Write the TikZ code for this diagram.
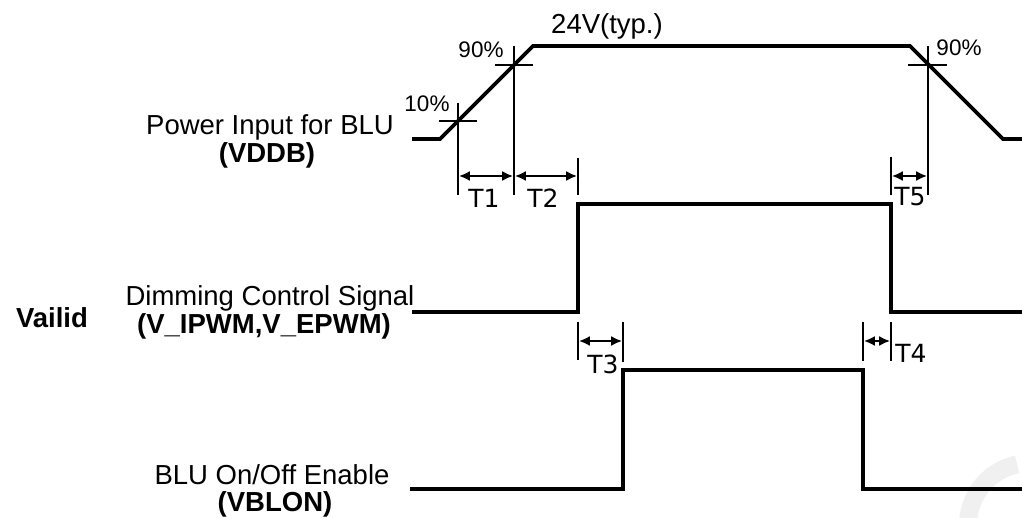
\documentclass[tikz,border=0pt]{standalone}
\usepackage{fontspec}
\setmainfont{Liberation Sans}
\newfontfamily\tfont{DejaVu Sans}
\usetikzlibrary{arrows.meta}
\begin{document}
\begin{tikzpicture}[x=1pt,y=-1pt,
  sig/.style={line width=3.6pt,line join=miter,line cap=butt},
  tickline/.style={line width=1.8pt},
  dimarrow/.style={line width=2.6pt,{Latex[length=11pt,width=10pt]}-{Latex[length=11pt,width=10pt]},shorten >=0.8pt,shorten <=0.8pt},
  lab/.style={font=\fontsize{27.5}{31}\selectfont,inner sep=0pt},
  blab/.style={font=\fontsize{27.5}{31}\selectfont\bfseries,inner sep=0pt},
  pct/.style={font=\fontsize{22.5}{25}\selectfont,inner sep=0pt},
  tlab/.style={font=\tfont\fontsize{25}{28}\selectfont,inner sep=0pt}]
\useasboundingbox (0,0) rectangle (1022,518);
% watermark
\coordinate (wm) at (1030,525);
\draw[gray!12,line width=18pt] ([shift={(wm)}]258:62) arc[start angle=258,end angle=165,radius=62];
% coordinates
\coordinate (p0) at (412,139);
\coordinate (p1) at (440,139);
\coordinate (p2) at (533,46);
\coordinate (p3) at (910,46);
\coordinate (p4) at (1003,139);
\coordinate (p5) at (1022,139);
\coordinate (d0) at (412,312);
\coordinate (d1) at (578,312);
\coordinate (d2) at (578,204);
\coordinate (d3) at (891,204);
\coordinate (d4) at (891,312);
\coordinate (d5) at (1022,312);
\coordinate (e0) at (410,489);
\coordinate (e1) at (623,489);
\coordinate (e2) at (623,370);
\coordinate (e3) at (863,370);
\coordinate (e4) at (863,489);
\coordinate (e5) at (1022,489);
% signals
\draw[sig] (p0) -- (p1) -- (p2) -- (p3) -- (p4) -- (p5);
\draw[sig] (d0) -- (d1) -- (d2) -- (d3) -- (d4) -- (d5);
\draw[sig] (e0) -- (e1) -- (e2) -- (e3) -- (e4) -- (e5);
% threshold crosses
\draw[tickline] (439,121) -- (477,121);
\draw[tickline] (458,103) -- (458,195);
\draw[tickline] (495,65) -- (533,65);
\draw[tickline] (514,46) -- (514,195);
\draw[tickline] (908,65) -- (947,65);
\draw[tickline] (928,46) -- (928,195);
\draw[tickline] (578,158) -- (578,195);
\draw[tickline] (891,157) -- (891,195);
% T3 / T4 ticks
\draw[tickline] (578,322) -- (578,360);
\draw[tickline] (623,322) -- (623,362);
\draw[tickline] (863,322) -- (863,361);
\draw[tickline] (891,322) -- (891,361);
% dimension arrows
\coordinate (a1) at (458,176);
\coordinate (a2) at (514,176);
\coordinate (a3) at (578,176);
\coordinate (a5l) at (891,176);
\coordinate (a5r) at (928,176);
\coordinate (b3l) at (578,341);
\coordinate (b3r) at (623,341);
\coordinate (b4l) at (863,341);
\coordinate (b4r) at (891,341);
\draw[dimarrow] (a1) -- (a2);
\draw[dimarrow] (a2) -- (a3);
\draw[dimarrow] (a5l) -- (a5r);
\draw[dimarrow] (b3l) -- (b3r);
\draw[dimarrow] (b4l) -- (b4r);
% T labels
\node[tlab] (t1) at (484,198) {T1};
\node[tlab] (t2) at (543,198) {T2};
\node[tlab] (t5) at (910,197) {T5};
\node[tlab] (t3) at (603,364) {T3};
\node[tlab] (t4) at (911,353) {T4};
% percent labels
\node[pct] (l10) at (427,104) {10\%};
\node[pct] (l90a) at (481,50) {90\%};
\node[pct] (l90b) at (959,48) {90\%};
\node[lab] (v24) at (607,26) {24V(typ.)};
% signal names
\node[lab] (n1) at (270,127) {Power Input for BLU};
\node[blab] (n1b) at (267,155) {(VDDB)};
\node[lab] (n2) at (270,298) {Dimming Control Signal};
\node[blab] (n2b) at (264,326) {(V\_IPWM,V\_EPWM)};
\node[blab] (vl) at (52,318) {Vailid};
\node[lab] (n3) at (272,475) {BLU On/Off Enable};
\node[blab] (n3b) at (275,504) {(VBLON)};
\end{tikzpicture}
\end{document}
